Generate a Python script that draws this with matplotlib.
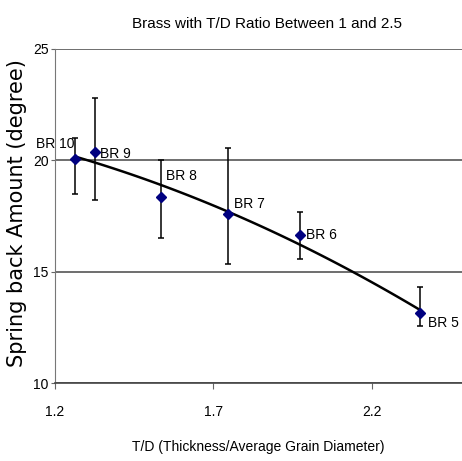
import numpy as np
import matplotlib
matplotlib.use("Agg")
import matplotlib.pyplot as plt

# T/D ratio, mean spring back and error bar extents for each brass sample
labels = ["BR 10", "BR 9", "BR 8", "BR 7", "BR 6", "BR 5"]
td_ratio = [1.263, 1.326, 1.534, 1.746, 1.973, 2.351]
springback = [20.05, 20.35, 18.35, 17.6, 16.65, 13.15]
err_upper = [21.0, 22.8, 20.0, 20.55, 17.7, 14.3]
err_lower = [18.5, 18.2, 16.5, 15.35, 15.55, 12.55]

# label offsets in points (dx, dy)
label_offsets = [(-28, 11), (4, -1), (4, 15), (4, 7), (4, 0), (6, -7)]

plt.rcParams["font.family"] = ["Liberation Sans", "DejaVu Sans"]

fig = plt.figure(figsize=(4.62, 4.61), dpi=100)
ax = fig.add_axes([0.119, 0.169, 0.881, 0.725])

x = np.array(td_ratio)
y = np.array(springback)
yerr = [y - np.array(err_lower), np.array(err_upper) - y]

# 2nd order trendline
coef = np.polyfit(x, y, 2)
xs = np.linspace(x.min(), x.max(), 100)
ax.plot(xs, np.polyval(coef, xs), color="black", lw=1.8, zorder=3)

ax.errorbar(x, y, yerr=yerr, fmt="none", ecolor="black", elinewidth=1.1,
            capsize=2.5, capthick=1.1, zorder=4)
ax.plot(x, y, "D", color="#000080", ms=5, zorder=5)

for xi, yi, lab, off in zip(x, y, labels, label_offsets):
    ax.annotate(lab, (xi, yi), xytext=off, textcoords="offset points",
                fontsize=10, va="center", ha="left")

ax.set_xlim(1.2, 2.484)
ax.set_ylim(10, 25)
ax.set_xticks([1.2, 1.7, 2.2])
ax.set_xticklabels(["1.2", "1.7", "2.2"])
ax.set_yticks([10, 15, 20, 25])
ax.yaxis.grid(True, color="#555555", lw=1.2)
ax.set_axisbelow(True)

for side in ["top", "right"]:
    ax.spines[side].set_visible(False)
ax.spines["left"].set_color("#777777")
ax.spines["bottom"].set_color("#444444")
ax.spines["bottom"].set_linewidth(1.2)
ax.tick_params(axis="y", labelsize=10, length=3, color="#666666", pad=1.5)
ax.tick_params(axis="x", labelsize=10, length=4, color="#666666", pad=12)

ax.set_title("Brass with T/D Ratio Between 1 and 2.5", fontsize=11, pad=15, x=0.52)
ax.set_xlabel("T/D (Thickness/Average Grain Diameter)", fontsize=10, labelpad=15)
ax.set_ylabel("Spring back Amount (degree)", fontsize=15, family="DejaVu Sans")
ax.yaxis.set_label_coords(-0.069, 0.51)

fig.savefig("out.png", dpi=100)
